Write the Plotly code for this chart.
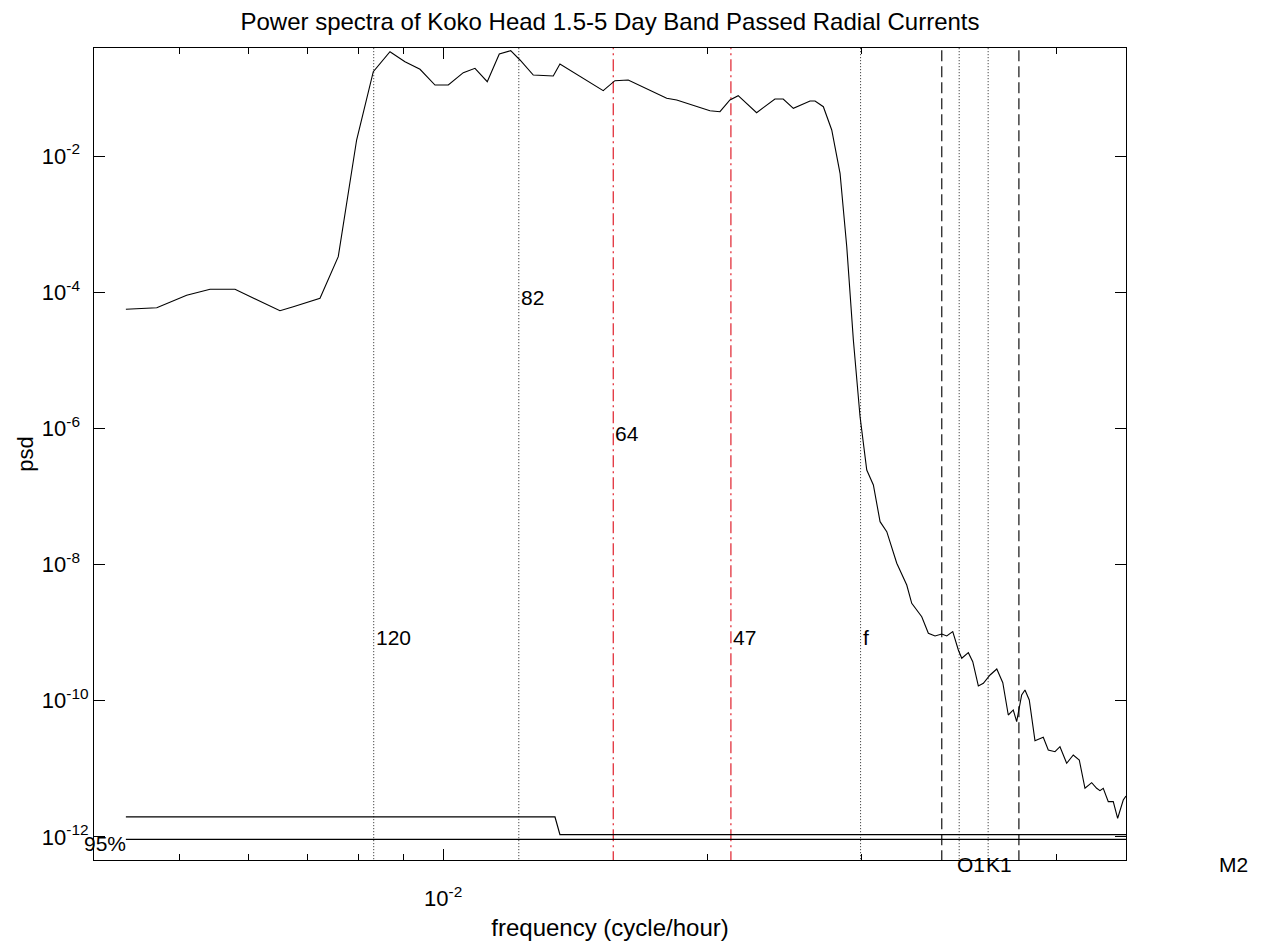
import numpy as np
import plotly.graph_objects as go

# Power spectral density of the band-passed radial current (frequency in cycle/hour)
freq = [
    0.004349, 0.004716, 0.005101, 0.005424, 0.005791, 0.006516, 0.006748, 0.007238, 0.007593, 0.007968,
    0.008324, 0.008697, 0.009046, 0.009410, 0.009787, 0.010135, 0.010542, 0.010870, 0.011226, 0.011586,
    0.011938, 0.012233, 0.012667, 0.013348, 0.013585, 0.015218, 0.015693, 0.016250, 0.017977, 0.018455,
    0.020138, 0.020673, 0.021222, 0.021688, 0.022761, 0.023881, 0.024407, 0.025065, 0.026187, 0.026533,
    0.027117, 0.027721, 0.028332, 0.028835, 0.029339, 0.029859, 0.030389, 0.030921, 0.031469, 0.032027,
    0.032879, 0.033751, 0.034197, 0.035106, 0.035720, 0.036352, 0.036998, 0.037486, 0.038081, 0.038645,
    0.038991, 0.039672, 0.040133, 0.040726, 0.041264, 0.042001, 0.042746, 0.043425, 0.044055, 0.044637,
    0.045036, 0.045631, 0.046027, 0.046549, 0.047251, 0.048292, 0.048930, 0.049798, 0.050455, 0.051350,
    0.052247, 0.053077, 0.053875, 0.054832, 0.055556, 0.056039, 0.056525, 0.057272, 0.058028, 0.058701,
    0.059570, 0.060000,
]
psd = [
    5.61e-5, 5.92e-5, 9.01e-5, 1.103e-4, 1.103e-4, 5.35e-5, 6.13e-5, 8.14e-5, 3.32e-4, 1.718e-2,
    0.1730, 0.3401, 0.2425, 0.1876, 0.1103, 0.1103, 0.1673, 0.1941, 0.1234, 0.3147,
    0.3518, 0.2569, 0.1547, 0.1496, 0.2244, 0.0910, 0.1276, 0.1306, 0.07037, 0.06645,
    0.04627, 0.04473, 0.06645, 0.07685, 0.04324, 0.06874, 0.06874, 0.05017, 0.06424, 0.06424,
    0.05297, 0.02409, 5.572e-3, 4.658e-4, 1.987e-5, 1.485e-6, 2.450e-7, 1.476e-7, 4.267e-8, 3.042e-8,
    1.045e-8, 5.017e-9, 2.702e-9, 1.718e-9, 9.80e-10, 8.94e-10, 9.57e-10, 8.94e-10, 1.035e-9, 5.573e-10,
    4.209e-10, 5.085e-10, 3.752e-10, 1.650e-10, 1.808e-10, 2.393e-10, 2.932e-10, 1.845e-10, 6.187e-11, 7.328e-11,
    4.933e-11, 1.217e-10, 1.441e-10, 1.027e-10, 2.595e-11, 2.912e-11, 1.895e-11, 1.789e-11, 2.119e-11, 1.209e-11,
    1.600e-11, 1.351e-11, 5.191e-12, 6.272e-12, 5.191e-12, 4.786e-12, 5.191e-12, 3.300e-12, 3.300e-12, 1.883e-12,
    3.495e-12, 4.002e-12,
]

# 95% confidence levels
conf_hi_freq = [0.004349, 0.013408, 0.013585, 0.060]
conf_hi_psd = [1.97e-12, 1.97e-12, 1.08e-12, 1.08e-12]
conf_lo_freq = [0.004349, 0.060]
conf_lo_psd = [9.25e-13, 9.25e-13]

# Marked periods (hours) with the psd level where their label sits
dotted_periods = [120, 82]
dotted_label_psd = [1e-9, 1e-4]
band_periods = [64, 47]          # pass-band edges
band_label_psd = [1e-6, 1e-9]
inertial_freq = 0.0299           # local inertial frequency f
inertial_label_psd = 1e-9
tide_names = ["O1", "K1"]
tide_periods = [25.82, 23.93]
diurnal_edges = [0.0370, 0.0453]
m2_label_freq = 0.0762
tide_label_psd_log = -12.41
conf_label_freq = 0.003879
conf_label_psd_log = -12.103

xlim = [0.004, 0.06]
ylim_log = [-12.338, -0.414]
ytick_exp = [-12, -10, -8, -6, -4, -2]
x_minor = [0.005, 0.006, 0.007, 0.008, 0.009, 0.02, 0.03, 0.05]

FONT = "Liberation Sans, Arial, Helvetica, sans-serif"
fig = go.Figure()


def vline(xv, color, dash, width=1.0):
    fig.add_trace(go.Scatter(
        x=[xv, xv], y=[1e-14, 10], mode="lines",
        line=dict(color=color, width=width, dash=dash),
        hoverinfo="skip", showlegend=False,
    ))


# reference lines
for p in dotted_periods:
    vline(1.0 / p, "#222222", "1px,2px")
vline(inertial_freq, "#222222", "1px,2px")
for p in tide_periods:
    vline(1.0 / p, "#222222", "1px,2px")
for p in band_periods:
    vline(1.0 / p, "#e0202c", "12px,4px,2px,4px", 1.2)
for fv in diurnal_edges:
    vline(fv, "#111111", "11px,5px", 1.2)

# confidence lines
fig.add_trace(go.Scatter(x=conf_hi_freq, y=conf_hi_psd, mode="lines",
                         line=dict(color="black", width=1.2), showlegend=False, hoverinfo="skip"))
fig.add_trace(go.Scatter(x=conf_lo_freq, y=conf_lo_psd, mode="lines",
                         line=dict(color="black", width=1.2), showlegend=False, hoverinfo="skip"))

# spectrum
fig.add_trace(go.Scatter(x=freq, y=psd, mode="lines",
                         line=dict(color="black", width=1.1), showlegend=False))

label_font = dict(family=FONT, size=21, color="black")
annotations = []

lx0, lx1 = np.log10(xlim[0]), np.log10(xlim[1])


def xpaper(xv):
    return (np.log10(xv) - lx0) / (lx1 - lx0)


def ypaper(ylog):
    return (ylog - ylim_log[0]) / (ylim_log[1] - ylim_log[0])


def label(text, xv, yv_log, yshift=-5, xshift=0):
    # positioned in paper units so labels outside the axes stay visible
    annotations.append(dict(
        x=xpaper(xv), y=ypaper(yv_log), xref="paper", yref="paper", text=text,
        showarrow=False, xanchor="left", yanchor="middle",
        xshift=xshift, yshift=yshift, font=label_font,
    ))


for p, lv in zip(dotted_periods, dotted_label_psd):
    label(str(p), 1.0 / p, np.log10(lv))
for p, lv in zip(band_periods, band_label_psd):
    label(str(p), 1.0 / p, np.log10(lv))
label("f", inertial_freq, np.log10(inertial_label_psd))
for name, p in zip(tide_names, tide_periods):
    label(name, 1.0 / p, tide_label_psd_log, yshift=0, xshift=-4)
label("M2", m2_label_freq, tide_label_psd_log, yshift=0)
label("95%", conf_label_freq, conf_label_psd_log, yshift=0)

fig.update_layout(
    width=1268, height=944,
    margin=dict(l=94, r=142, t=48, b=84),
    paper_bgcolor="white", plot_bgcolor="white",
    font=dict(family=FONT, size=21, color="black"),
    title=dict(text="Power spectra of Koko Head 1.5-5 Day Band Passed Radial Currents",
               x=0.5, xref="paper", y=1 - 22 / 944, yref="container",
               xanchor="center", yanchor="middle",
               font=dict(family=FONT, size=24, color="black")),
    annotations=annotations,
    showlegend=False,
)

fig.update_xaxes(
    type="log", range=[lx0, lx1], automargin=False,
    tickmode="array", tickvals=[0.01], ticktext=["10<sup>-2</sup>"],
    ticks="inside", ticklen=11, tickcolor="black", tickwidth=1,
    ticklabelstandoff=19,
    minor=dict(tickmode="array", tickvals=x_minor, ticks="inside", ticklen=6,
               tickcolor="black", tickwidth=1, showgrid=False),
    showline=True, linecolor="black", linewidth=1, mirror="ticks",
    showgrid=False, zeroline=False,
    tickfont=dict(family=FONT, size=22, color="black"),
    title=dict(text="frequency (cycle/hour)", standoff=8,
               font=dict(family=FONT, size=24, color="black")),
)

fig.update_yaxes(
    type="log", range=ylim_log, automargin=False,
    tickmode="array", tickvals=[10.0 ** e for e in ytick_exp],
    ticktext=["10<sup>%d%s</sup>" % (e, "" if e <= -10 else "\u2007") for e in ytick_exp],
    ticks="inside", ticklen=11, tickcolor="black", tickwidth=1,
    showline=True, linecolor="black", linewidth=1, mirror="ticks",
    showgrid=False, zeroline=False,
    tickfont=dict(family=FONT, size=22, color="black"),
    title=dict(text="psd", standoff=2,
               font=dict(family=FONT, size=22, color="black")),
)

fig.write_html("out.html", config={"displayModeBar": False})
